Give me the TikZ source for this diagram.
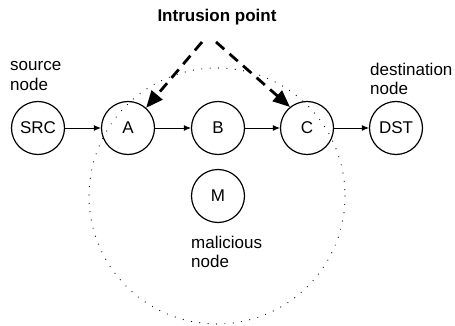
\documentclass[tikz,border=0pt]{standalone}
\usepackage{fontspec}
\setmainfont{Liberation Sans}
\usetikzlibrary{arrows.meta}
\begin{document}
\begin{tikzpicture}[x={(1pt,0)},y={(0,-1pt)},
  every node/.style={font=\fontsize{17}{19.5}\selectfont},
  netnode/.style={draw, circle, line width=1.2pt, minimum size=53pt, inner sep=0pt},
  link/.style={line width=0.9pt, -{Latex[length=7pt,width=6pt]}},
  intrude/.style={line width=2.8pt, dash pattern=on 11pt off 7pt, -{Triangle[length=17pt,width=14pt]}},
  lbl/.style={align=left, inner sep=0pt, anchor=west},
  zone/.style={line width=1.2pt, line cap=round, dash pattern=on 0pt off 8.4pt}]
\useasboundingbox (0,0) rectangle (455,326);
\node[netnode] (SRC) at (38,128) {SRC};
\node[netnode] (A) at (128,128) {A};
\node[netnode] (B) at (218,128) {B};
\node[netnode] (C) at (307,128) {C};
\node[netnode] (DST) at (396,128) {DST};
\node[netnode] (M) at (218,196) {M};
\draw[zone] (217,196) circle (128);
\draw[link] (SRC) -- (A);
\draw[link] (A) -- (B);
\draw[link] (B) -- (C);
\draw[link] (C) -- (DST);
\node[inner sep=0pt, font=\fontsize{17}{19.5}\selectfont\bfseries] (ip) at (217,17) {Intrusion point};
\coordinate (ipL) at (202,42);
\coordinate (ipR) at (216,42);
\draw[intrude] (ipL) -- (A.48);
\draw[intrude] (ipR) -- (C.129);
\node[lbl] (srclbl) at (10,76) {source\\node};
\node[lbl] (dstlbl) at (370,79) {destination\\node};
\node[lbl] (mlbl) at (191,252) {malicious\\node};
\end{tikzpicture}
\end{document}
